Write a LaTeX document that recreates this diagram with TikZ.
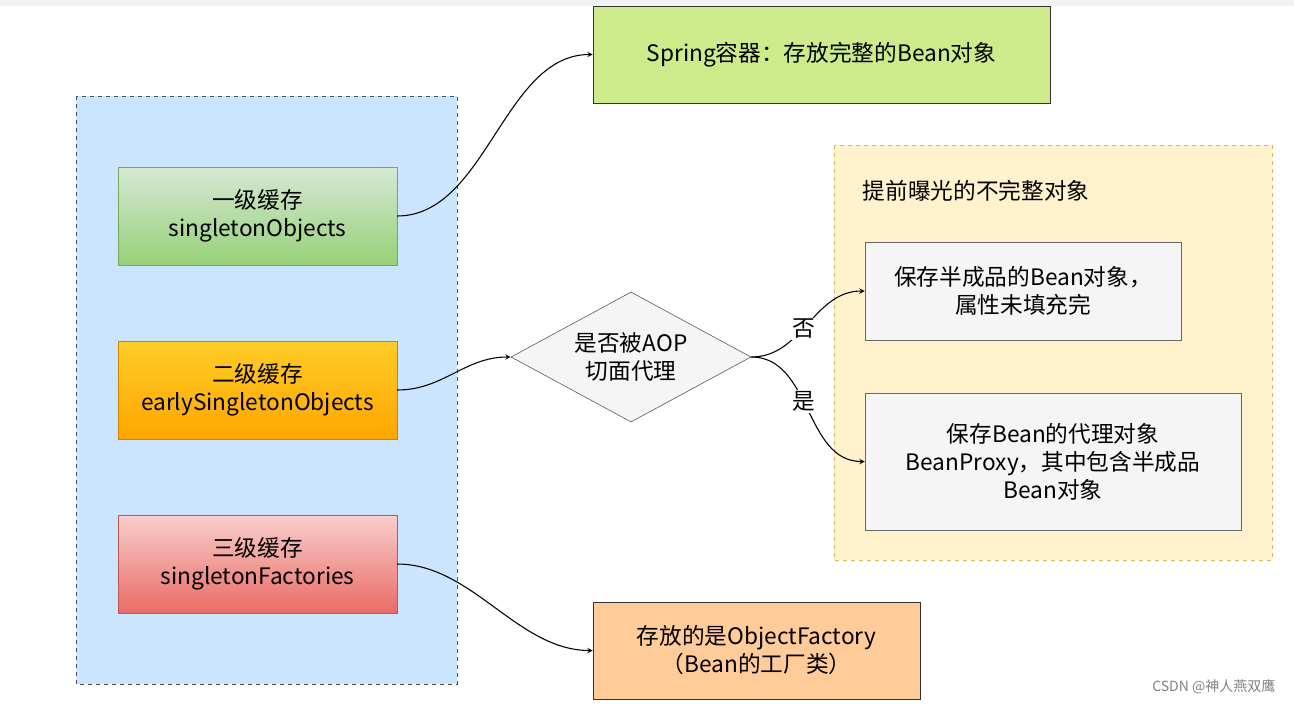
\documentclass[tikz,border=0pt]{standalone}
\usepackage{fontspec}
\setmainfont{Noto Sans CJK SC}
\usetikzlibrary{positioning,shapes.geometric}
\definecolor{cacheblue}{HTML}{CCE5FF}
\definecolor{halfyellow}{HTML}{FFF2CC}
\definecolor{halfborder}{HTML}{D6B656}
\definecolor{springgreen}{HTML}{CDEB8B}
\definecolor{factoryorange}{HTML}{FFCC99}
\definecolor{boxgray}{HTML}{F5F5F5}
\definecolor{greentop}{HTML}{D5E8D4}
\definecolor{greenbot}{HTML}{97D077}
\definecolor{orangetop}{HTML}{FFCD28}
\definecolor{orangebot}{HTML}{FFA500}
\definecolor{redtop}{HTML}{F8CECC}
\definecolor{redbot}{HTML}{EA6B66}
\begin{document}
\begin{tikzpicture}[x=0.75pt,y=-0.75pt,
    every node/.style={font=\fontsize{17}{21}\selectfont, align=center},
    cache/.style={draw, minimum width=209pt, minimum height=73.5pt, inner sep=0pt},
    plain/.style={draw=black!80, inner sep=0pt},
    link/.style={->, >=stealth, thick}]
\useasboundingbox (0,0) rectangle (1294,706);
\fill[black!5] (0,0) rectangle (1294,6);
% containers
\draw[dashed, fill=cacheblue, draw=black!70] (76,96) rectangle (457,684);
\draw[dashed, fill=halfyellow, draw=halfborder] (834,145) rectangle (1272,560);
\node[anchor=west] (half) at (858,191) {提前曝光的不完整对象};
% caches
\node[cache, draw=greenbot!80!black, top color=greentop, bottom color=greenbot] (lv1) at (257.5,216) {一级缓存\\singletonObjects};
\node[cache, draw=orangebot!80!black, top color=orangetop, bottom color=orangebot] (lv2) at (257.5,390) {二级缓存\\earlySingletonObjects};
\node[cache, draw=redbot!80!black, top color=redtop, bottom color=redbot] (lv3) at (257.5,564) {三级缓存\\singletonFactories};
% targets
\node[plain, fill=springgreen, minimum width=342.75pt, minimum height=72.75pt] (spring) at (821.5,54.5) {Spring容器：存放完整的Bean对象};
\node[plain, fill=factoryorange, minimum width=245.25pt, minimum height=72.75pt] (factory) at (756.5,650.5) {存放的是ObjectFactory\\（Bean的工厂类）};
\node[diamond, draw=black!70, fill=boxgray, minimum width=180pt, minimum height=97.5pt, inner sep=0pt, aspect=1.85] (aop) at (631,357) {是否被AOP\\切面代理};
\node[draw=black!60, fill=boxgray, minimum width=237pt, minimum height=73.5pt, inner sep=0pt] (early) at (1023,291) {保存半成品的Bean对象，\\属性未填充完};
\node[draw=black!60, fill=boxgray, minimum width=282pt, minimum height=102.75pt, inner sep=0pt] (proxy) at (1053,461.5) {保存Bean的代理对象\\BeanProxy，其中包含半成品\\Bean对象};
% connectors
\draw[link] (lv1.east) to[out=0, in=180, looseness=0.9] (spring.west);
\draw[link] (lv2.east) to[out=0, in=180] (aop.west);
\draw[link] (lv3.east) to[out=0, in=180, looseness=0.9] (factory.west);
\draw[link] (aop.east) to[out=0, in=180] node[pos=0.45, fill=white, inner sep=1pt] {否} (early.west);
\draw[link] (aop.east) to[out=0, in=180] node[pos=0.45, fill=white, inner sep=1pt] {是} (proxy.west);
\node[anchor=east, text=black!50, font=\fontsize{10.5}{12}\selectfont] (mark) at (1280,687) {CSDN @神人燕双鹰};
\end{tikzpicture}
\end{document}
